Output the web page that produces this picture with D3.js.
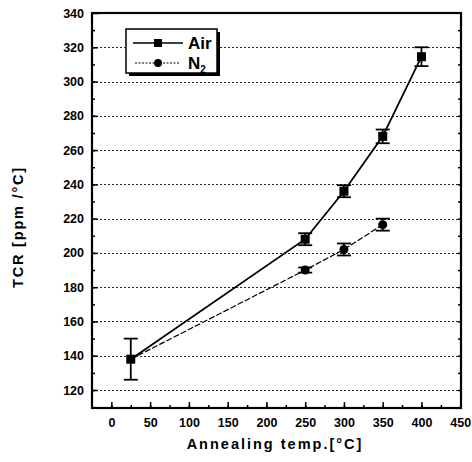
<!DOCTYPE html>
<html><head><meta charset="utf-8">
<script src="https://cdn.jsdelivr.net/npm/d3@7"></script>
<style>body{margin:0;background:#fff}svg{display:block}text{font-family:Arial,"Liberation Sans",sans-serif;font-weight:bold;fill:#000}</style>
</head><body><svg id="c" width="472" height="462"></svg>
<script>
const airTemp = [25, 250, 300, 350, 400];
const airTCR = [138, 208, 236, 268, 314.5];
const airErr = [12, 3.5, 3.5, 4, 5.5];
const n2Temp = [25, 250, 300, 350];
const n2TCR = [138, 190, 202, 216.5];
const n2Err = [12, 1.5, 3.5, 3.5];
const xTicks = [0, 50, 100, 150, 200, 250, 300, 350, 400, 450];
const yTicks = [120, 140, 160, 180, 200, 220, 240, 260, 280, 300, 320, 340];
const seriesNames = ["Air", "N2"];

const svg = d3.select("#c");
const L = 92, R = 461, T = 13, B = 408;
const x = d3.scaleLinear().domain([-25, 451]).range([L, R]);
const y = d3.scaleLinear().domain([109.5, 340]).range([B, T]);

// gridlines
svg.append("g").selectAll("line").data(yTicks.filter(v => v < 340)).join("line")
  .attr("x1", L).attr("x2", R).attr("y1", d => Math.round(y(d)) + 0.5).attr("y2", d => Math.round(y(d)) + 0.5)
  .attr("stroke", "#222").attr("stroke-width", 1).attr("stroke-dasharray", "2,2");

// axes
const minorY = d3.range(110, 340, 10);
const minorX = d3.range(0, 450, 25);
const gx = svg.append("g").attr("transform", `translate(0,${B})`)
  .call(d3.axisBottom(x).tickValues(minorX).tickSize(-3).tickFormat(""));
const gx2 = svg.append("g").attr("transform", `translate(0,${B})`)
  .call(d3.axisBottom(x).tickValues(xTicks).tickSize(-6).tickPadding(10).tickFormat(d3.format("d")));
const gy = svg.append("g").attr("transform", `translate(${L},0)`)
  .call(d3.axisLeft(y).tickValues(minorY).tickSize(-3).tickFormat(""));
const gy2 = svg.append("g").attr("transform", `translate(${L},0)`)
  .call(d3.axisLeft(y).tickValues(yTicks).tickSize(-6).tickPadding(8).tickFormat(d3.format("d")));
const gr = svg.append("g").attr("transform", `translate(${R},0)`)
  .call(d3.axisRight(y).tickValues(minorY).tickSize(-3).tickFormat(""));
[gx, gx2, gy, gy2, gr].forEach(g => {
  g.select(".domain").remove();
  g.selectAll(".tick line").attr("stroke", "#000").attr("stroke-width", 1.5);
  g.selectAll("text").style("font-size", "12.5px").style("font-weight", "bold")
    .attr("font-family", "Arial, 'Liberation Sans', sans-serif").attr("fill", "#000");
});
svg.append("rect").attr("x", L).attr("y", T).attr("width", R - L).attr("height", B - T)
  .attr("fill", "none").attr("stroke", "#000").attr("stroke-width", 2.2);

// lines
const line = d3.line().x(d => x(d[0])).y(d => y(d[1]));
const airPts = airTemp.map((t, i) => [t, airTCR[i], airErr[i]]);
const n2Pts = n2Temp.map((t, i) => [t, n2TCR[i], n2Err[i]]);
svg.append("path").attr("d", line(n2Pts)).attr("fill", "none").attr("stroke", "#000")
  .attr("stroke-width", 1.2).attr("stroke-dasharray", "6,2");
svg.append("path").attr("d", line(airPts)).attr("fill", "none").attr("stroke", "#000").attr("stroke-width", 1.8);

function errBars(pts) {
  const g = svg.append("g").attr("stroke", "#000").attr("stroke-width", 1.8);
  pts.forEach(p => {
    g.append("line").attr("x1", x(p[0])).attr("x2", x(p[0])).attr("y1", y(p[1] - p[2])).attr("y2", y(p[1] + p[2]));
    [p[1] - p[2], p[1] + p[2]].forEach(v => g.append("line")
      .attr("x1", x(p[0]) - 7).attr("x2", x(p[0]) + 7).attr("y1", y(v)).attr("y2", y(v)));
  });
}
errBars(n2Pts.slice(1));
errBars(airPts);
svg.append("g").selectAll("circle").data(n2Pts.slice(1)).join("circle")
  .attr("cx", d => x(d[0])).attr("cy", d => y(d[1])).attr("r", 4.5).attr("fill", "#000");
svg.append("g").selectAll("rect").data(airPts).join("rect")
  .attr("x", d => x(d[0]) - 4.5).attr("y", d => y(d[1]) - 4.5).attr("width", 9).attr("height", 9).attr("fill", "#000");

// legend
const lg = svg.append("g");
lg.append("rect").attr("x", 129).attr("y", 32).attr("width", 91).attr("height", 44).attr("fill", "#000");
lg.append("rect").attr("x", 126).attr("y", 29).attr("width", 91).attr("height", 44).attr("fill", "#fff")
  .attr("stroke", "#000").attr("stroke-width", 1.5);
lg.append("line").attr("x1", 133).attr("x2", 183).attr("y1", 43).attr("y2", 43).attr("stroke", "#000").attr("stroke-width", 1.5);
lg.append("rect").attr("x", 154).attr("y", 39).attr("width", 8).attr("height", 8).attr("fill", "#000");
lg.append("line").attr("x1", 135).attr("x2", 180).attr("y1", 63).attr("y2", 63).attr("stroke", "#000").attr("stroke-width", 1).attr("stroke-dasharray", "2,1.5");
lg.append("circle").attr("cx", 158).attr("cy", 63).attr("r", 4).attr("fill", "#000");
lg.append("text").attr("x", 188).attr("y", 49).style("font-size", "17px").text(seriesNames[0]);
const n2t = lg.append("text").attr("x", 188).attr("y", 69).style("font-size", "17px").text("N");
n2t.append("tspan").attr("dy", 4).style("font-size", "10px").text("2");

// titles
svg.append("text").attr("x", 275).attr("y", 449).attr("text-anchor", "middle")
  .style("font-size", "14.5px").style("letter-spacing", "2px").text("Annealing temp.[°C]");
svg.append("text").attr("transform", "translate(23,227) rotate(-90)").attr("text-anchor", "middle")
  .style("font-size", "14.5px").style("letter-spacing", "1.8px").text("TCR [ppm /°C]");
</script></body></html>
